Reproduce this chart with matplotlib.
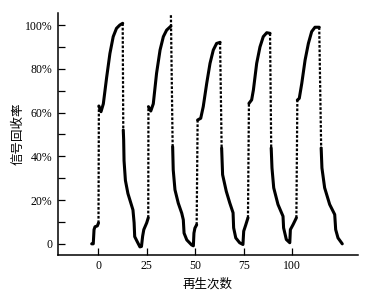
import matplotlib
matplotlib.use("Agg")
import matplotlib.pyplot as plt
from matplotlib.ticker import MultipleLocator

# each cycle: rise after the jump up, then fall after the drop (x = regeneration count, y = %)
start_x = [-3.5, -2.7, -2.3, -1.8, -0.6, 0.0]
start_y = [0, 0, 6.5, 7.8, 8.2, 9.5]

rise1_x = [0.2, 1.3, 2.5, 4.2, 5.9, 7.6, 9.3, 11.0, 12.5]
rise1_y = [63, 60.4, 64, 76, 87, 94.7, 98.5, 100, 100.8]
fall1_x = [12.8, 13.0, 13.2, 13.9, 15.2, 17.0, 17.8, 18.4, 18.7, 20.0, 21.4, 22.2, 22.8, 23.4, 24.9, 25.7]
fall1_y = [52, 47.5, 38, 29, 23, 17.8, 15.5, 9.6, 3.3, 1, -1.4, -1.2, 3.5, 6.5, 9.6, 11.9]

rise2_x = [25.8, 27.0, 28.3, 30.0, 31.8, 33.5, 35.2, 37.4]
rise2_y = [62.7, 60.7, 64, 78, 88.6, 94.7, 97.7, 99.5]
fall2_x = [38.3, 38.6, 39.5, 41.2, 43.0, 43.8, 44.2, 45.6, 48.1, 49.0, 49.3, 49.8, 50.7]
fall2_y = [44.4, 33.8, 24.7, 18.6, 14, 11, 4.9, 1.8, -0.5, -0.9, 4.9, 7.2, 8.7]

rise3_x = [51.2, 52.8, 54.1, 55.9, 57.6, 59.3, 61.0, 62.8]
rise3_y = [56.6, 57.4, 62.7, 73.4, 82.5, 88.6, 91.6, 92.1]
fall3_x = [63.6, 64.1, 66.0, 67.8, 69.5, 69.8, 70.9, 72.9, 74.6, 75.0, 76.0, 77.2]
fall3_y = [43.8, 31.6, 24, 18.7, 14.2, 7.3, 2.7, 0.5, -0.3, 5.8, 8.5, 11.9]

rise4_x = [77.7, 79.1, 80.0, 81.7, 83.4, 85.1, 86.9, 88.6]
rise4_y = [64.2, 65.8, 70.3, 82.5, 90, 94.7, 96.5, 96.2]
fall4_x = [89.2, 89.6, 90.5, 92.7, 95.3, 95.6, 97.0, 98.8, 99.1, 100.5, 102.2]
fall4_y = [43.8, 34.7, 25.6, 18, 12.6, 7.3, 2, 0.5, 6.5, 8.8, 11.9]

rise5_x = [102.7, 103.7, 105.0, 106.7, 108.4, 110.1, 111.8, 114.0]
rise5_y = [65.7, 66.5, 73.4, 84, 91.6, 97, 99, 99]
fall5_x = [115.0, 115.4, 116.8, 119.4, 122.0, 122.5, 123.7, 125.9]
fall5_y = [43.8, 34.7, 25.6, 18, 13.4, 6.5, 2.7, 0]

# top of the dotted drop in cycle 2 overshoots the curve
drop2_top = 104.5

xticks = [0, 25, 50, 75, 100]
yticks = [0, 20, 40, 60, 80, 100]
ylabels = ["0", "20%", "40%", "60%", "80%", "100%"]

fig = plt.figure(figsize=(3.66, 2.96), dpi=100)
ax = fig.add_axes([0.158, 0.14, 0.82, 0.816])

solid = dict(color="black", lw=2.2, solid_capstyle="round", solid_joinstyle="round")
dotted = dict(color="black", lw=1.6, linestyle=(0, (1.2, 0.8)))

ax.plot(start_x, start_y, **solid)
rises = [(rise1_x, rise1_y), (rise2_x, rise2_y), (rise3_x, rise3_y), (rise4_x, rise4_y), (rise5_x, rise5_y)]
falls = [(fall1_x, fall1_y), (fall2_x, fall2_y), (fall3_x, fall3_y), (fall4_x, fall4_y), (fall5_x, fall5_y)]
prev_x, prev_y = start_x[-1], start_y[-1]
for i, ((rx, ry), (fx, fy)) in enumerate(zip(rises, falls)):
    # jump up (dotted)
    ax.plot([prev_x, rx[0]], [prev_y, ry[0]], **dotted)
    ax.plot(rx, ry, **solid)
    # drop (dotted)
    top = drop2_top if i == 1 else ry[-1]
    ax.plot([rx[-1], fx[0]], [top, fy[0]], **dotted)
    ax.plot(fx, fy, **solid)
    prev_x, prev_y = fx[-1], fy[-1]

ax.set_xlim(-21, 134)
ax.set_ylim(-4.9, 105.5)
ax.set_xticks(xticks)
ax.set_yticks(yticks)
ax.set_yticklabels(ylabels)
ax.yaxis.set_minor_locator(MultipleLocator(10))

for s in ["top", "right"]:
    ax.spines[s].set_visible(False)
for s in ["left", "bottom"]:
    ax.spines[s].set_linewidth(1.1)

ax.tick_params(which="both", direction="in", length=5, width=0.9,
               labelsize=8.5, pad=4)
for lab in ax.get_xticklabels() + ax.get_yticklabels():
    lab.set_fontfamily("Liberation Serif")

ax.set_xlabel("再生次数", fontfamily=["Noto Sans CJK SC", "DejaVu Sans"], fontsize=9, labelpad=4)
ax.set_ylabel("信号回收率", fontfamily=["Noto Sans CJK SC", "DejaVu Sans"], fontsize=9, labelpad=0)

fig.savefig("out.png", dpi=100)
